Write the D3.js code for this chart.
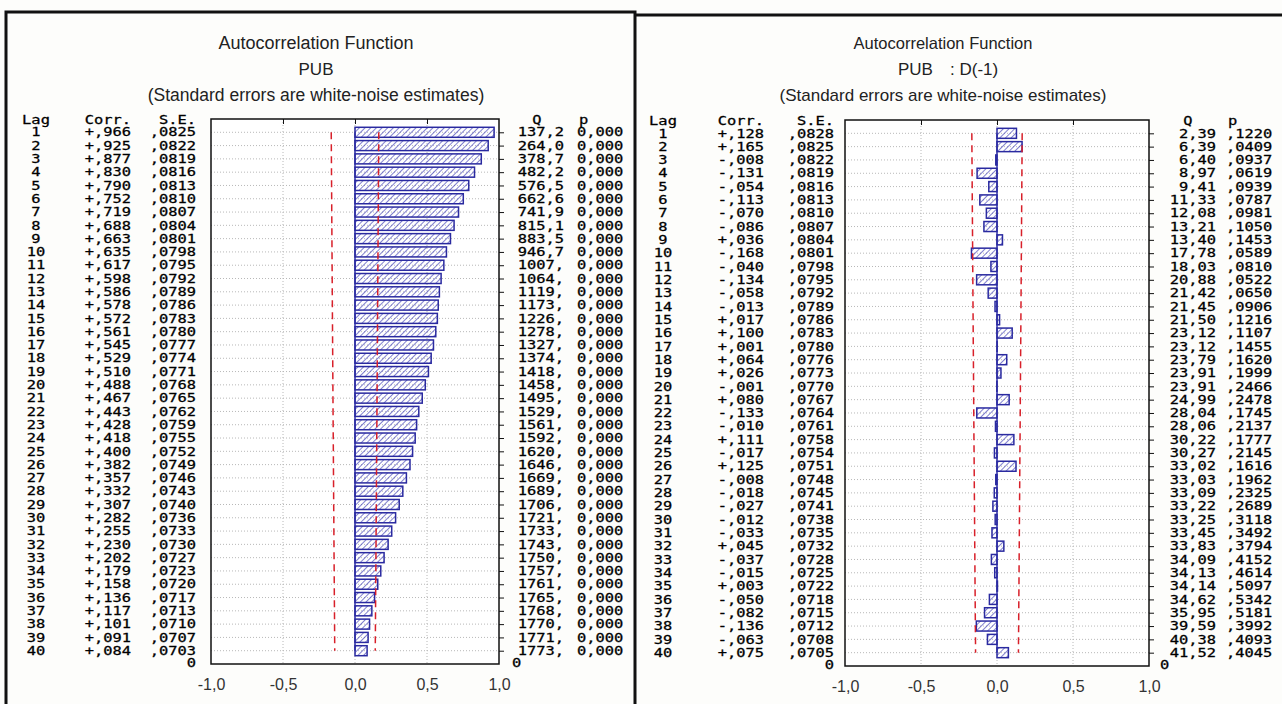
<!DOCTYPE html>
<html><head><meta charset="utf-8">
<script src="https://cdn.jsdelivr.net/npm/d3@7"></script>
<style>
body{margin:0;background:#fdfdfb;}
svg{display:block;}
.mono{font-family:"DejaVu Sans Mono",monospace;font-size:11.4px;fill:#000;stroke:#000;stroke-width:0.25px;}
.sans{font-family:"Liberation Sans",Arial,sans-serif;fill:#222;}
</style></head><body>
<svg id="c" width="1282" height="704"></svg>
<script>
// ---------- DATA ----------
const lags = [1,2,3,4,5,6,7,8,9,10,11,12,13,14,15,16,17,18,19,20,21,22,23,24,25,26,27,28,29,30,31,32,33,34,35,36,37,38,39,40];
const xTicks = [-1.0,-0.5,0.0,0.5,1.0];
const xTickLabels = ["-1,0","-0,5","0,0","0,5","1,0"];

// Left panel: PUB
const corrLevel = [.966,.925,.877,.830,.790,.752,.719,.688,.663,.635,.617,.598,.586,.578,.572,.561,.545,.529,.510,.488,.467,.443,.428,.418,.400,.382,.357,.332,.307,.282,.255,.230,.202,.179,.158,.136,.117,.101,.091,.084];
const seLevel = [.0825,.0822,.0819,.0816,.0813,.0810,.0807,.0804,.0801,.0798,.0795,.0792,.0789,.0786,.0783,.0780,.0777,.0774,.0771,.0768,.0765,.0762,.0759,.0755,.0752,.0749,.0746,.0743,.0740,.0736,.0733,.0730,.0727,.0723,.0720,.0717,.0713,.0710,.0707,.0703];
const qLevel = [137.2,264.0,378.7,482.2,576.5,662.6,741.9,815.1,883.5,946.7,1007,1064,1119,1173,1226,1278,1327,1374,1418,1458,1495,1529,1561,1592,1620,1646,1669,1689,1706,1721,1733,1743,1750,1757,1761,1765,1768,1770,1771,1773];
const pLevel = [0,0,0,0,0,0,0,0,0,0,0,0,0,0,0,0,0,0,0,0,0,0,0,0,0,0,0,0,0,0,0,0,0,0,0,0,0,0,0,0];

// Right panel: PUB : D(-1)
const corrDiff = [.128,.165,-.008,-.131,-.054,-.113,-.070,-.086,.036,-.168,-.040,-.134,-.058,-.013,.017,.100,.001,.064,.026,-.001,.080,-.133,-.010,.111,-.017,.125,-.008,-.018,-.027,-.012,-.033,.045,-.037,-.015,.003,-.050,-.082,-.136,-.063,.075];
const seDiff = [.0828,.0825,.0822,.0819,.0816,.0813,.0810,.0807,.0804,.0801,.0798,.0795,.0792,.0789,.0786,.0783,.0780,.0776,.0773,.0770,.0767,.0764,.0761,.0758,.0754,.0751,.0748,.0745,.0741,.0738,.0735,.0732,.0728,.0725,.0722,.0718,.0715,.0712,.0708,.0705];
const qDiff = [2.39,6.39,6.40,8.97,9.41,11.33,12.08,13.21,13.40,17.78,18.03,20.88,21.42,21.45,21.50,23.12,23.12,23.79,23.91,23.91,24.99,28.04,28.06,30.22,30.27,33.02,33.03,33.09,33.22,33.25,33.45,33.83,34.09,34.13,34.14,34.62,35.95,39.59,40.38,41.52];
const pDiff = [.1220,.0409,.0937,.0619,.0939,.0787,.0981,.1050,.1453,.0589,.0810,.0522,.0650,.0906,.1216,.1107,.1455,.1620,.1999,.2466,.2478,.1745,.2137,.1777,.2145,.1616,.1962,.2325,.2689,.3118,.3492,.3794,.4152,.4614,.5097,.5342,.5181,.3992,.4093,.4045];

const titleMain = "Autocorrelation Function";
const titleNote = "(Standard errors are white-noise estimates)";

// ---------- FORMATTERS ----------
const fmtCorr = v => (v < 0 ? "-" : "+") + "," + String(Math.round(Math.abs(v)*1000)).padStart(3,"0");
const fmtSE = v => "," + String(Math.round(v*10000)).padStart(4,"0");
const fmtQL = v => v >= 1000 ? Math.round(v) + "," : v.toFixed(1).replace(".", ",");
const fmtQR = v => v.toFixed(2).replace(".", ",");
const fmtPL = v => v.toFixed(3).replace(".", ",");
const fmtPR = v => "," + String(Math.round(v*10000)).padStart(4,"0");

const SX = 1.35; // horizontal stretch of the table font

const svg = d3.select("#c");
const defs = svg.append("defs");
const pat = defs.append("pattern").attr("id","hatch").attr("patternUnits","userSpaceOnUse")
  .attr("width",4).attr("height",4).attr("patternTransform","rotate(45)");
pat.append("line").attr("x1",0).attr("y1",0).attr("x2",0).attr("y2",4).attr("stroke","#3c3cb4").attr("stroke-width",1.3);

// frames
svg.append("path").attr("d","M6,704 V12 H635 V704").attr("fill","none").attr("stroke","#111").attr("stroke-width",3);
svg.append("path").attr("d","M636,15 H1282").attr("fill","none").attr("stroke","#111").attr("stroke-width",3);

function panel(c) {
  const g = svg.append("g");
  const x = d3.scaleLinear().domain([-1,1]).range([c.x0, c.x1]);
  const y = d3.scaleLinear().domain([0,41]).range([c.y0, c.y1]);

  // titles
  g.append("text").attr("class","sans").attr("x",c.tx).attr("y",49).attr("text-anchor","middle")
    .style("font-size",c.fsMain).text(titleMain);
  c.sub.forEach(s => g.append("text").attr("class","sans").attr("x",s.x).attr("y",75)
    .attr("text-anchor",s.anchor).style("font-size","17px").text(s.t));
  g.append("text").attr("class","sans").attr("x",c.tx).attr("y",101).attr("text-anchor","middle")
    .style("font-size",c.fsNote).text(titleNote);

  // plot background
  g.append("rect").attr("x",c.x0).attr("y",c.y0).attr("width",c.x1-c.x0).attr("height",c.y1-c.y0).attr("fill","#fff");

  // grid
  g.selectAll(".hg").data(lags).join("line")
    .attr("x1",c.x0).attr("x2",c.x1).attr("y1",d=>y(d)).attr("y2",d=>y(d))
    .attr("stroke","#b8b8b8").attr("stroke-width",1).attr("stroke-dasharray","1,2");
  g.selectAll(".vg").data([-0.5,0,0.5]).join("line")
    .attr("x1",d=>x(d)).attr("x2",d=>x(d)).attr("y1",c.y0).attr("y2",c.y1)
    .attr("stroke","#b8b8b8").attr("stroke-width",1).attr("stroke-dasharray","1,2");

  // zero line
  g.append("line").attr("x1",x(0)).attr("x2",x(0)).attr("y1",y(1)).attr("y2",y(40))
    .attr("stroke","#3030a8").attr("stroke-width",1.5);

  // bars
  const bh = 10;
  g.selectAll(".bar").data(lags).join("rect")
    .attr("x",(d,i)=>Math.min(x(0),x(c.corr[i])))
    .attr("y",d=>y(d)-bh/2)
    .attr("width",(d,i)=>Math.abs(x(c.corr[i])-x(0)))
    .attr("height",bh)
    .attr("fill","url(#hatch)")
    .attr("stroke","#2a2aa0").attr("stroke-width",1.5);

  // confidence limits (2*SE)
  const line = d3.line().x(d=>d[0]).y(d=>d[1]);
  [1,-1].forEach(s => {
    g.append("path").attr("d", line(lags.map((l,i)=>[x(s*2*c.se[i]), y(l)])))
      .attr("fill","none").attr("stroke","#d8202a").attr("stroke-width",1.5).attr("stroke-dasharray","7,5");
  });

  // frame
  g.append("rect").attr("x",c.x0).attr("y",c.y0).attr("width",c.x1-c.x0).attr("height",c.y1-c.y0)
    .attr("fill","none").attr("stroke","#111").attr("stroke-width",1.5);

  // ticks right (each lag)
  g.append("g").attr("transform",`translate(${c.x1},0)`)
    .call(d3.axisRight(y).tickValues(lags).tickSize(5).tickFormat(""))
    .call(a=>a.select(".domain").remove())
    .selectAll("line").attr("stroke","#111");
  // ticks top
  g.append("g").attr("transform",`translate(0,${c.y0})`)
    .call(d3.axisBottom(x).tickValues([-0.5,0,0.5]).tickSize(5).tickFormat(""))
    .call(a=>a.select(".domain").remove())
    .selectAll("line").attr("stroke","#111");
  // x tick labels
  const ax = g.append("g").attr("transform",`translate(0,${c.y1})`)
    .call(d3.axisBottom(x).tickValues(xTicks).tickSize(0).tickPadding(15)
      .tickFormat((d,i)=>xTickLabels[i]));
  ax.select(".domain").remove();
  ax.selectAll("text").attr("class","sans").style("font-size","16px").style("fill","#333");

  // table (stretched monospace)
  const row = d => y(d) + 4.2;
  const hdrY = y(0) + 4.5;
  const tr = (xx, yy) => `translate(${xx},${yy}) scale(${SX},1)`;
  const T = (xx, yy, t, anchor) => g.append("text").attr("class","mono")
    .attr("transform", tr(xx, yy)).attr("text-anchor",anchor).text(t);
  T(c.lagX, hdrY, "Lag", "middle");
  T(c.corrR, hdrY, "Corr.", "end");
  T(c.seR, hdrY, "S.E.", "end");
  T(c.qH, hdrY, "Q", "middle");
  T(c.pL + 2, hdrY, "p", "start");

  const col = (cls, xx, anchor, fn) => g.selectAll("." + cls).data(lags).join("text")
    .attr("class","mono").attr("transform", d => tr(xx, row(d))).attr("text-anchor", anchor).text(fn);
  col("lag", c.lagX, "middle", d => d);
  col("cr", c.corrR, "end", (d,i) => fmtCorr(c.corr[i]));
  col("se", c.seR, "end", (d,i) => fmtSE(c.se[i]));
  col("q", c.qR, "end", (d,i) => c.fq(c.q[i]));
  col("p", c.pL, "start", (d,i) => c.fp(c.p[i]));
  T(c.seR, y(41)+3, "0", "end");
  T(c.zeroL, y(41)+3, "0", "start");
}

panel({x0:211, x1:499, y0:119, y1:664, tx:316, fsMain:"18px", fsNote:"17.5px",
  sub:[{x:316, anchor:"middle", t:"PUB"}],
  corr:corrLevel, se:seLevel, q:qLevel, p:pLevel, fq:fmtQL, fp:fmtPL,
  lagX:36, corrR:131, seR:196, qR:564, qH:537, pL:577, zeroL:512});

panel({x0:845, x1:1149, y0:120, y1:666, tx:943, fsMain:"16.5px", fsNote:"17px",
  sub:[{x:898, anchor:"start", t:"PUB"},{x:950, anchor:"start", t:": D(-1)"}],
  corr:corrDiff, se:seDiff, q:qDiff, p:pDiff, fq:fmtQR, fp:fmtPR,
  lagX:663, corrR:764, seR:834, qR:1216, qH:1188, pL:1226, zeroL:1160});
</script>
</body></html>
